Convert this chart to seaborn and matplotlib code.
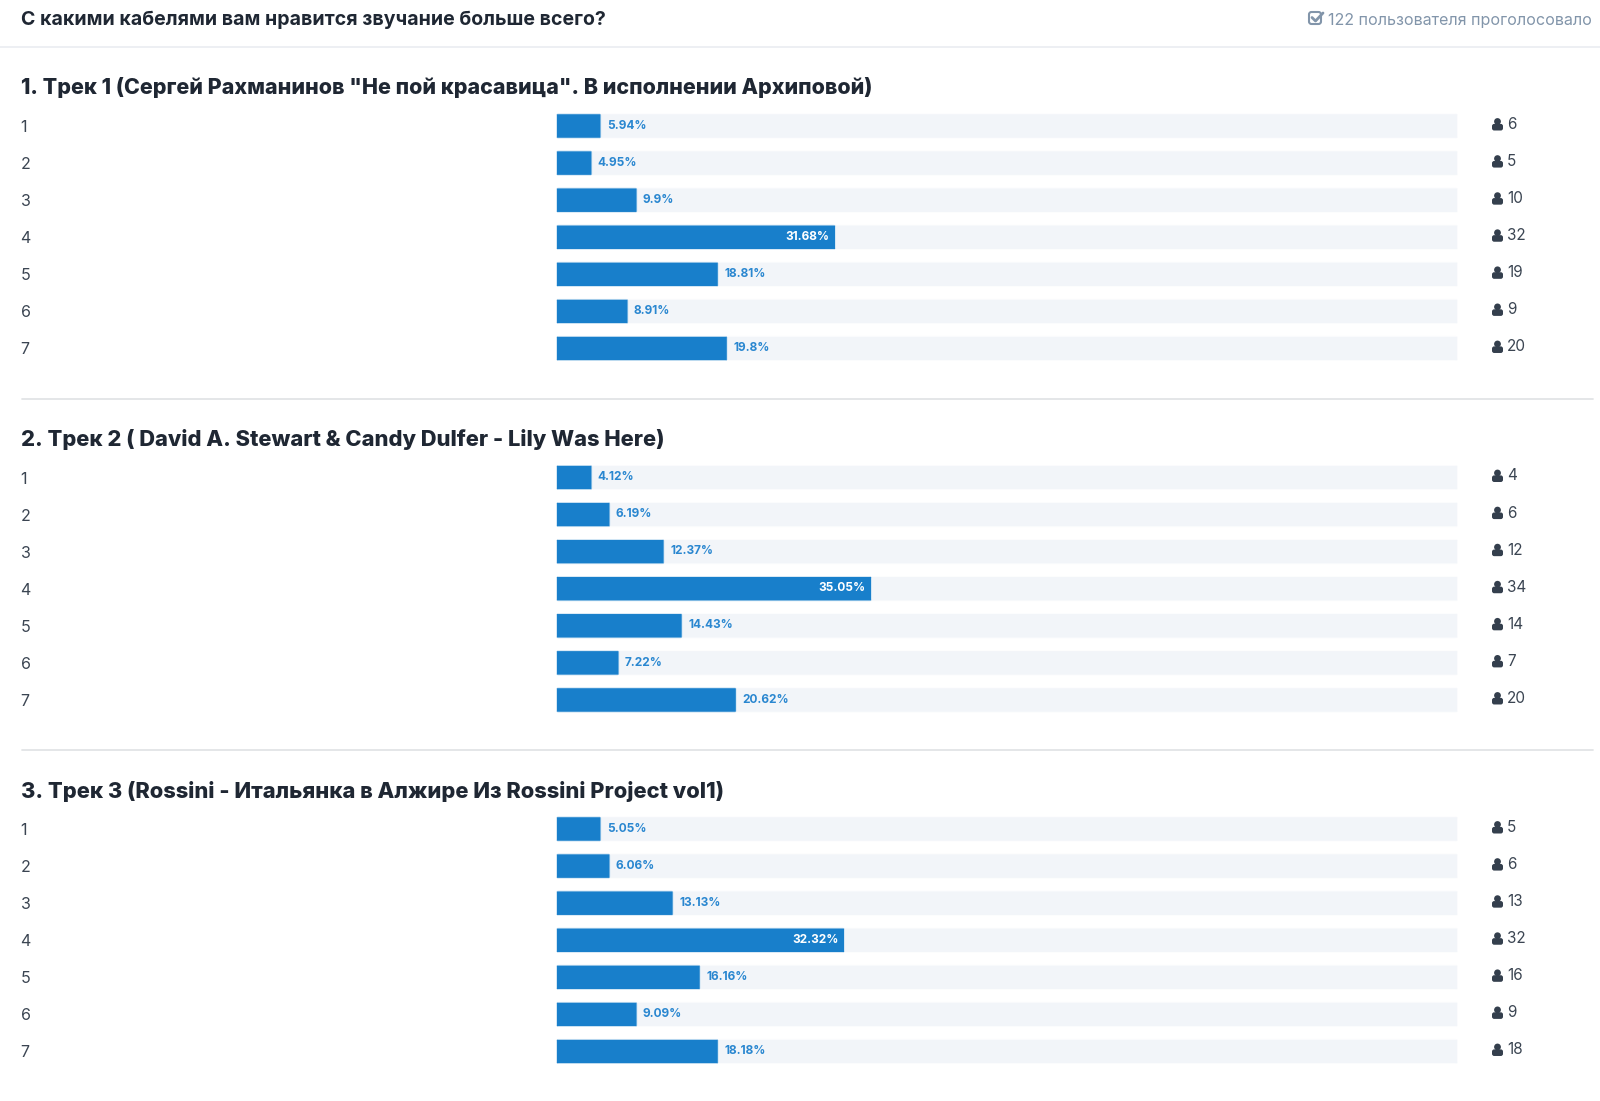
import matplotlib
matplotlib.use("Agg")
import matplotlib.pyplot as plt
from matplotlib.patches import Circle, FancyBboxPatch
import pandas as pd
import seaborn as sns

question = "С какими кабелями вам нравится звучание больше всего?"
voters = "122 пользователя проголосовало"
options = ["1", "2", "3", "4", "5", "6", "7"]

track1_title = '1. Трек 1 (Сергей Рахманинов "Не пой красавица". В исполнении Архиповой)'
track1_pct = [5.94, 4.95, 9.9, 31.68, 18.81, 8.91, 19.8]
track1_bar = [5, 4, 9, 31, 18, 8, 19]
track1_votes = [6, 5, 10, 32, 19, 9, 20]

track2_title = "2. Трек 2 ( David A. Stewart & Candy Dulfer - Lily Was Here)"
track2_pct = [4.12, 6.19, 12.37, 35.05, 14.43, 7.22, 20.62]
track2_bar = [4, 6, 12, 35, 14, 7, 20]
track2_votes = [4, 6, 12, 34, 14, 7, 20]

track3_title = "3. Трек 3 (Rossini - Итальянка в Алжире Из Rossini Project vol1)"
track3_pct = [5.05, 6.06, 13.13, 32.32, 16.16, 9.09, 18.18]
track3_bar = [5, 6, 13, 32, 16, 9, 18]
track3_votes = [5, 6, 13, 32, 16, 9, 18]

track_full = [100] * 7

sections = [
    (track1_title, track1_pct, track1_bar, track1_votes, 15.45),
    (track2_title, track2_pct, track2_bar, track2_votes, 15.75),
    (track3_title, track3_pct, track3_bar, track3_votes, 15.78),
]

sns.set_theme(style="white")
plt.rcParams["font.family"] = ["Inter", "DejaVu Sans"]

W, H = 1600, 1101
BLUE = "#187fcb"
LABEL_BLUE = "#2a87d0"
TRACK = "#f2f5f9"
DARK = "#1f2733"
ICON = "#343f4d"
GREY = "#8295aa"

fig = plt.figure(figsize=(W / 100, H / 100), dpi=100, facecolor="white")
page = fig.add_axes([0, 0, 1, 1], zorder=5)
page.set_xlim(0, W)
page.set_ylim(H, 0)
page.axis("off")

X0, X1 = 556.2, 1458
PITCH = 37.08
BAR_H = 25
ROW0 = 126
STEP = 351.5
PX_PER_UNIT = (X1 - X0) / 100


def round_bars(ax, patches, r_px=2.5):
    aspect = (1 / PITCH) / (1 / PX_PER_UNIT)
    for p in patches:
        p.set_snap(False)
        clip = FancyBboxPatch(
            (p.get_x(), p.get_y()), p.get_width(), p.get_height(),
            boxstyle=f"round,pad=0,rounding_size={r_px / PX_PER_UNIT}",
            mutation_aspect=aspect, transform=ax.transData,
        )
        p.set_clip_path(clip)


def person(x, y):
    page.add_patch(Circle((x, y - 3.0), 3.4, color=ICON, lw=0))
    page.add_patch(FancyBboxPatch((x - 5.5, y - 0.6), 11, 6.6,
                                  boxstyle="round,pad=0,rounding_size=2.2",
                                  fc=ICON, ec="none"))


for s, (title, pct, bars, votes, title_size) in enumerate(sections):
    top = ROW0 + s * STEP - PITCH / 2
    ax = fig.add_axes([X0 / W, 1 - (top + 7 * PITCH) / H,
                       (X1 - X0) / W, 7 * PITCH / H])
    frame = pd.DataFrame({"option": options, "full": track_full, "bar": bars})
    sns.barplot(data=frame, y="option", x="full", orient="h", color=TRACK,
                saturation=1, width=BAR_H / PITCH, ax=ax)
    sns.barplot(data=frame, y="option", x="bar", orient="h", color=BLUE,
                saturation=1, width=BAR_H / PITCH, ax=ax)
    round_bars(ax, ax.patches)
    ax.set_xlim(0, 100)
    ax.set_ylim(6.5, -0.5)
    ax.set_xlabel("")
    ax.set_ylabel("")
    ax.set_xticks([])
    sns.despine(ax=ax, left=True, bottom=True)
    ax.patch.set_alpha(0)
    ax.tick_params(axis="y", length=0, pad=(X0 - 20.5) * 0.72,
                   labelsize=11.5, labelcolor="#3b4552")
    for lab in ax.get_yticklabels():
        lab.set_ha("left")

    for i, (p, b, v) in enumerate(zip(pct, bars, votes)):
        if b > 25:
            ax.text(b - 0.7, i - 0.01, f"{p}%", ha="right", va="center",
                    color="white", fontsize=8.55, fontweight="bold")
        else:
            ax.text(b + 0.62, i - 0.01, f"{p}%", ha="left", va="center",
                    color=LABEL_BLUE, fontsize=8.55, fontweight="bold")
        yc = ROW0 + s * STEP + i * PITCH - 1.5
        person(1497.5, yc)
        page.text(1507, yc, str(v), ha="left", va="center",
                  fontsize=11, color="#3b4552")

    page.text(21, 88 + s * STEP, title, ha="left", va="center",
              fontsize=title_size, fontweight="heavy", color=DARK)
    if s < 2:
        page.plot([22, 1593], [398.5 + s * STEP] * 2, color="#e2e4e6", lw=1.3)

page.text(21, 20, question, ha="left", va="center", fontsize=14.07,
          fontweight="bold", color=DARK)
page.plot([0, W], [47, 47], color="#eceef2", lw=1.3)
page.text(1592, 20, voters, ha="right", va="center", fontsize=11.55, color=GREY)
page.add_patch(FancyBboxPatch((1309, 12), 12, 12,
                              boxstyle="round,pad=0,rounding_size=2.5",
                              fc="white", ec=GREY, lw=1.5))
page.plot([1312, 1315.5, 1323], [17.5, 21, 13], color=GREY, lw=2)

fig.savefig("out.png", dpi=100, facecolor="white")
